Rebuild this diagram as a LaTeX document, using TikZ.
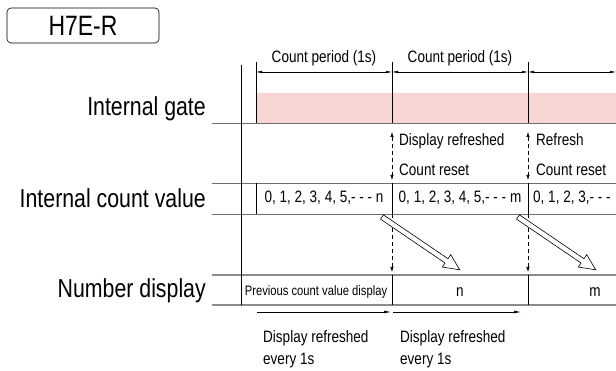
\documentclass[tikz,border=0pt]{standalone}
\usepackage{fontspec}
\setmainfont{Liberation Sans}[FakeStretch=0.82]
\usepackage{tikz}
\usetikzlibrary{arrows.meta}
\usepackage{xcolor}
\definecolor{gatepink}{RGB}{247,213,210}
\definecolor{rowgray}{RGB}{110,110,110}
\newcommand{\rowfont}{\fontsize{26}{30}\selectfont}
\newcommand{\notefont}{\fontsize{16.5}{22}\selectfont}
\newcommand{\cellfont}{\fontsize{13.7}{16}\selectfont}

\tikzset{
    rowline/.style={rowgray,line width=0.8pt},
    displine/.style={rowgray!80,line width=1.4pt},
    edge/.style={black,line width=0.6pt},
    dimarrow/.style={line width=0.5pt,{Latex[length=6pt,width=2.6pt]}-{Latex[length=6pt,width=2.6pt]}},
    refresh/.style={line width=0.6pt,dash pattern=on 4pt off 3pt},
    oneway/.style={line width=0.6pt,-{Latex[length=7pt,width=2.8pt]}},
    transfer/.pic={
        \draw[line width=0.6pt,fill=white] (0,-2.6) -- (78,-2.6) -- (78,-7.5) -- (94,0)
            -- (78,7.5) -- (78,2.6) -- (0,2.6) -- cycle;
    }
}

\begin{document}
\begin{tikzpicture}[x=1pt,y=-1pt]
    \useasboundingbox (0,0) rectangle (616,371);

    \node[draw,rounded corners=4pt,line width=0.6pt,minimum width=152pt,minimum height=35pt,
        inner sep=0pt,font=\fontsize{28}{30}\selectfont] (model) at (83,25.5) {H7E-R};

    % row labels
    \node[anchor=base east,inner sep=0pt,font=\rowfont] (gate) at (206,116) {Internal gate};
    \node[anchor=base east,inner sep=0pt,font=\rowfont] (count) at (206,208) {Internal count value};
    \node[anchor=base east,inner sep=0pt,font=\rowfont] (display) at (206,298) {Number display};

    % internal gate
    \fill[gatepink] (256,93) rectangle (616,123);
    \draw[rowline] (212,123) -- (616,123);

    % rows
    \draw[rowline] (212,183) -- (616,183);
    \draw[rowline] (212,214) -- (616,214);
    \draw[displine] (212,275) -- (616,275);
    \draw[displine] (212,305) -- (616,305);
    \draw[edge] (241,65) -- (241,305);

    % count periods
    \coordinate (p0) at (256,72);
    \coordinate (p1) at (392,72);
    \coordinate (p2) at (528,72);
    \coordinate (p3) at (616,72);
    \foreach \x in {256,392,528} {
        \draw[edge] (\x,62) -- (\x,123);
    }
    \draw[dimarrow] (p0) -- (p1);
    \draw[dimarrow] (p1) -- (p2);
    \draw[dimarrow] (p2) -- (p3);
    \node[anchor=base,inner sep=0pt,font=\notefont] (period1) at (324,63) {Count period (1s)};
    \node[anchor=base,inner sep=0pt,font=\notefont] (period2) at (460,63) {Count period (1s)};

    % refresh and reset
    \foreach \x in {392,528} {
        \draw[refresh,{Latex[length=5pt,width=3.4pt]}-{Latex[length=5pt,width=3.4pt]}] (\x,132) -- (\x,180);
        \draw[refresh,-{Latex[length=5pt,width=3.4pt]}] (\x,214) -- (\x,272);
    }
    \node[anchor=base west,inner sep=0pt,font=\notefont] (refreshed) at (399,146) {Display refreshed};
    \node[anchor=base west,inner sep=0pt,font=\notefont] (reset1) at (399,176) {Count reset};
    \node[anchor=base west,inner sep=0pt,font=\notefont] (refresh) at (536,146) {Refresh};
    \node[anchor=base west,inner sep=0pt,font=\notefont] (reset2) at (536,176) {Count reset};

    % count values
    \foreach \x in {256,392,528} {
        \draw[edge] (\x,183) -- (\x,214);
    }
    \node[anchor=base,inner sep=0pt,font=\notefont] (valn) at (324,203) {0, 1, 2, 3, 4, 5,- - - n};
    \node[anchor=base,inner sep=0pt,font=\notefont] (valm) at (460,203) {0, 1, 2, 3, 4, 5,- - - m};
    \node[anchor=base west,inner sep=0pt,font=\notefont] (valnext) at (533,203) {0, 1, 2, 3,- - -};

    % transfer to display
    \pic[rotate=-34.2] at (382,217) {transfer};
    \pic[rotate=-34.2] at (518,217) {transfer};

    % number display
    \foreach \x in {392,528} {
        \draw[edge] (\x,275) -- (\x,305);
    }
    \node[anchor=base,inner sep=0pt,font=\cellfont] (previous) at (316,296) {Previous count value display};
    \node[anchor=base,inner sep=0pt,font=\notefont] (shown) at (460,297) {n};
    \node[anchor=base,inner sep=0pt,font=\notefont] (shownnext) at (595,297) {m};

    % display refresh
    \coordinate (d0) at (257,312);
    \coordinate (d1) at (391,312);
    \coordinate (d2) at (393,312);
    \coordinate (d3) at (521,312);
    \draw[oneway] (d0) -- (d1);
    \draw[oneway] (d2) -- (d3);
    \node[anchor=base west,inner sep=0pt,font=\notefont] (every1) at (263,343) {Display refreshed};
    \node[anchor=base west,inner sep=0pt,font=\notefont] (every1b) at (263,365) {every 1s};
    \node[anchor=base west,inner sep=0pt,font=\notefont] (every2) at (400,343) {Display refreshed};
    \node[anchor=base west,inner sep=0pt,font=\notefont] (every2b) at (400,365) {every 1s};

\end{tikzpicture}
\end{document}
